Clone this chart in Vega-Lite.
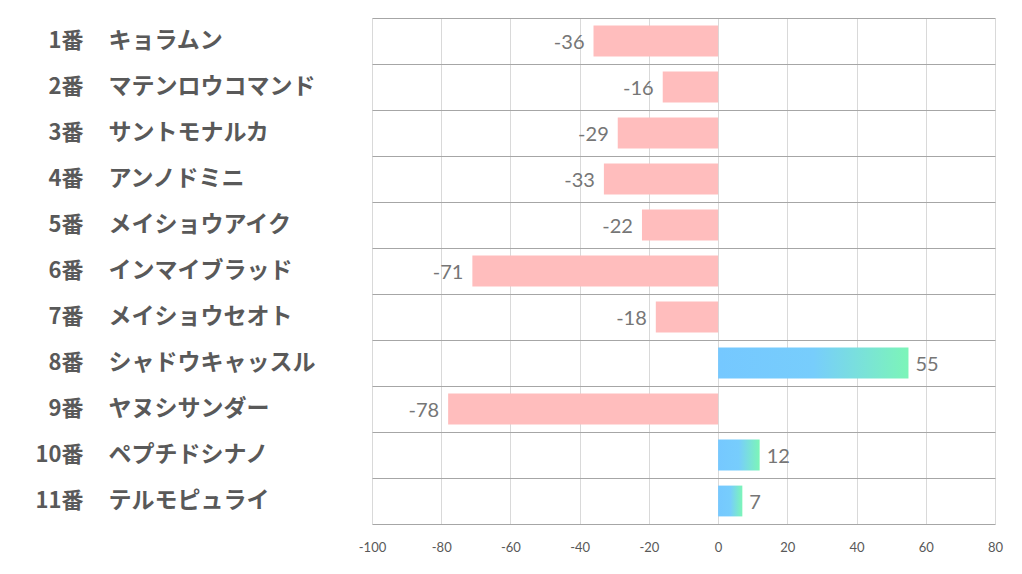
{
  "$schema": "https://vega.github.io/schema/vega-lite/v6.json",
  "width": 623,
  "height": 506,
  "autosize": {"type": "none"},
  "padding": {"left": 372, "top": 18, "right": 27, "bottom": 50},
  "background": "white",
  "data": {
    "values": [
      {"horse": "1番　キョラムン", "value": -36},
      {"horse": "2番　マテンロウコマンド", "value": -16},
      {"horse": "3番　サントモナルカ", "value": -29},
      {"horse": "4番　アンノドミニ", "value": -33},
      {"horse": "5番　メイショウアイク", "value": -22},
      {"horse": "6番　インマイブラッド", "value": -71},
      {"horse": "7番　メイショウセオト", "value": -18},
      {"horse": "8番　シャドウキャッスル", "value": 55},
      {"horse": "9番　ヤヌシサンダー", "value": -78},
      {"horse": "10番　ペプチドシナノ", "value": 12},
      {"horse": "11番　テルモピュライ", "value": 7}
    ]
  },
  "config": {
    "view": {"stroke": null},
    "axis": {"labelFont": "Lato", "titleFont": "Lato"}
  },
  "encoding": {
    "y": {
      "field": "horse",
      "type": "nominal",
      "sort": null,
      "scale": {"paddingInner": 0.33, "paddingOuter": 0.165}
    },
    "x": {
      "field": "value",
      "type": "quantitative",
      "scale": {"domain": [-100, 80], "nice": false, "zero": false},
      "axis": {
        "title": null,
        "values": [-100, -80, -60, -40, -20, 0, 20, 40, 60, 80],
        "format": "d",
        "labelExpr": "replace(datum.label, '−', '-')",
        "grid": true,
        "gridColor": "#D9D9D9",
        "gridWidth": 1,
        "domain": true,
        "domainColor": "#A6A6A6",
        "domainWidth": 1.2,
        "ticks": false,
        "tickSize": 0,
        "labelPadding": 17,
        "labelFontSize": 13,
        "labelColor": "#595959",
        "labelFlush": false
      }
    }
  },
  "layer": [
    {
      "mark": {"type": "bar"},
      "encoding": {
        "y": {
          "field": "horse",
          "type": "nominal",
          "sort": null,
          "axis": {
            "orient": "left",
            "title": null,
            "domain": false,
            "ticks": false,
            "tickSize": 0,
            "grid": true,
            "bandPosition": -0.246,
            "gridColor": "#A6A6A6",
            "gridWidth": 1.2,
            "labelAlign": "left",
            "labelPadding": 264,
            "labelFont": "Noto Sans CJK JP",
            "labelFontWeight": "bold",
            "labelFontSize": 23,
            "labelColor": "#595959",
            "labelLimit": 400,
            "labelExpr": "split(datum.label, '　')[1]"
          }
        },
        "color": {
          "condition": {"test": "datum.value < 0", "value": "#FFBDBD"},
          "value": {
            "gradient": "linear",
            "x1": 0, "x2": 1, "y1": 0, "y2": 0,
            "stops": [
              {"offset": 0, "color": "#75C8FF"},
              {"offset": 0.5, "color": "#77CDFC"},
              {"offset": 1, "color": "#7CF5B8"}
            ]
          }
        }
      }
    },
    {
      "mark": {
        "type": "text",
        "font": "Lato",
        "fontSize": 20,
        "color": "#767676",
        "baseline": "middle",
        "dy": 2,
        "align": {"expr": "datum.value < 0 ? 'right' : 'left'"},
        "dx": {"expr": "datum.value < 0 ? -9 : 7"}
      },
      "encoding": {
        "y": {
          "field": "horse",
          "type": "nominal",
          "sort": null,
          "axis": {
            "orient": "left",
            "title": null,
            "domain": false,
            "ticks": false,
            "tickSize": 0,
            "grid": false,
            "labelAlign": "right",
            "labelPadding": 289,
            "labelFont": "Noto Sans CJK JP",
            "labelFontWeight": "bold",
            "labelFontSize": 22,
            "labelColor": "#595959",
            "labelExpr": "split(datum.label, '　')[0]"
          }
        },
        "text": {"field": "value", "type": "nominal"}
      }
    }
  ],
  "resolve": {"axis": {"y": "independent"}}
}
